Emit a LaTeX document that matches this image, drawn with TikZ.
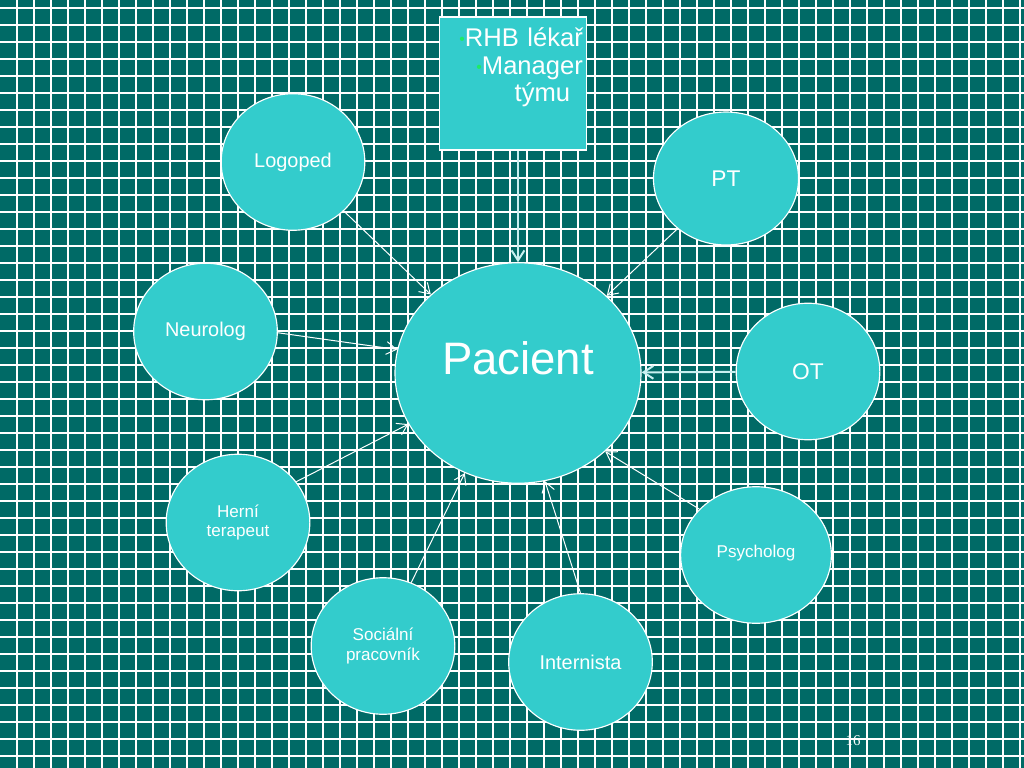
\documentclass[tikz,border=0pt]{standalone}
\usepackage{fontspec}
\setmainfont{Liberation Sans}
\newfontfamily\slidenum{Liberation Serif}
\usetikzlibrary{shapes.geometric,arrows.meta}

\definecolor{bgteal}{RGB}{0,106,102}
\definecolor{bubblefill}{RGB}{51,204,204}
\definecolor{palecyan}{RGB}{200,240,240}
\definecolor{bulgreen}{RGB}{30,235,100}
\newcommand{\bul}{\textcolor{bulgreen}{\fontsize{11pt}{11pt}\selectfont\raisebox{1.5pt}{•}}}

\begin{document}
\begin{tikzpicture}[x=0.703125pt, y=-0.703125pt, >={Straight Barb[length=7pt,width=9pt]},
    bubble/.style={draw=white, line width=0.8pt, ellipse, fill=bubblefill, text=white,
        inner sep=0pt, minimum width=101pt, minimum height=96pt, align=center},
    link/.style={->, white, line width=0.7pt},
    boldlink/.style={->, palecyan, line width=1.4pt},
    gridline/.style={white, line width=0.9pt}]
    % Background
    \fill [bgteal] (0,0) rectangle (1024,768);
    \useasboundingbox (0,0) rectangle (1024,768);
    \foreach \gx in {17,34,...,1020}
        \draw [gridline] (\gx,0) -- (\gx,768);
    \foreach \gy in {8,25,...,765}
        \draw [gridline] (0,\gy) -- (1024,\gy);

    % Nodes
    \node [draw=white, line width=0.8pt, fill=bubblefill, text=white, minimum width=103pt,
        minimum height=93.5pt, inner xsep=0pt, text width=98.4pt, align=right,
        text height=14pt, text depth=66pt, font=\fontsize{18pt}{19.5pt}\selectfont]
        (rhb) at (513,83.5) {\bul RHB lékař\\\bul Manager\hspace*{7.7pt}\\týmu\hspace*{9pt}};
    \node [bubble, minimum width=173pt, minimum height=155pt, text depth=21pt,
        font=\fontsize{32pt}{36pt}\selectfont] (pac) at (518,373) {Pacient};
    \node [bubble, font=\fontsize{14pt}{16pt}\selectfont] (logo) at (293,162) {Logoped};
    \node [bubble, minimum width=102pt, minimum height=93.5pt,
        font=\fontsize{16pt}{18pt}\selectfont] (pt) at (726,178.5) {PT};
    \node [bubble, font=\fontsize{14pt}{16pt}\selectfont] (neuro) at (205.5,331.5) {Neurolog};
    \node [bubble, font=\fontsize{16pt}{18pt}\selectfont] (ot) at (808,371.5) {OT};
    \node [bubble, font=\fontsize{12pt}{13.5pt}\selectfont] (hern) at (238,522.5) {Herní\\terapeut};
    \node [bubble, minimum width=106pt, text depth=5pt,
        font=\fontsize{12pt}{14pt}\selectfont] (psych) at (756,555) {Psycholog};
    \node [bubble, font=\fontsize{12pt}{14pt}\selectfont] (soc) at (383,646) {Sociální\\pracovník};
    \node [bubble, font=\fontsize{14pt}{16pt}\selectfont] (intern) at (580.5,662) {Internista};
    \node [text=white, font=\slidenum\fontsize{10.5pt}{12pt}\selectfont] (pnum) at (853,741) {16};

    % Connections
    \draw [boldlink] (rhb.south -| pac.north) -- (pac.north);
    \draw [link] (logo.-44) -- (pac.138);
    \draw [link] (pt.-134) -- (pac.41);
    \draw [link] (neuro.-1) -- (pac.169);
    \draw [boldlink] (ot) -- (pac);
    \draw [link] (hern.35) -- (pac.205);
    \draw [link] (psych.141) -- (pac.-42);
    \draw [link] (soc.66) -- (pac.242);
    \draw [link] (intern.north) -- (pac.-76);
\end{tikzpicture}
\end{document}
